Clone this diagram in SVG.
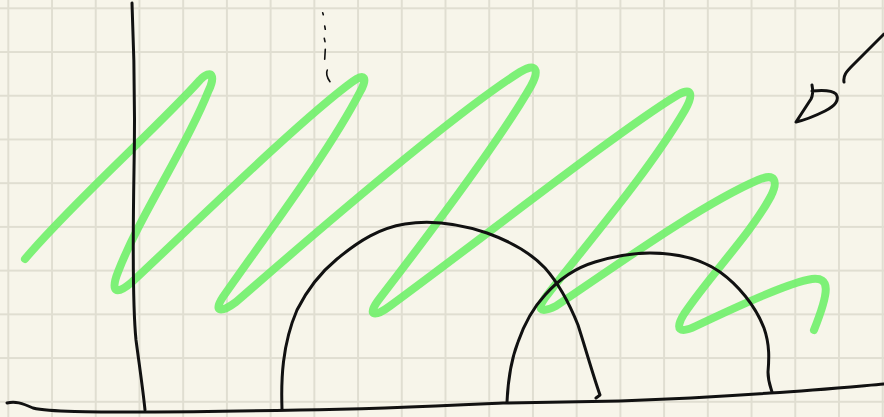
<svg xmlns="http://www.w3.org/2000/svg" width="884" height="417" viewBox="0 0 884 417">
<style>
.ink{fill:none;stroke:#111;stroke-width:3;stroke-linecap:round;stroke-linejoin:round}
.thin{fill:none;stroke:#111;stroke-width:1.6;stroke-linecap:round}
.hl{fill:none;stroke:#6cf066;stroke-opacity:0.88;stroke-width:8;stroke-linecap:round;stroke-linejoin:round}
</style>
<defs>
<pattern id="grid" patternUnits="userSpaceOnUse" x="-13.56" y="-13.56" width="43.72" height="43.72">
<path d="M21.86,0 V43.72 M0,21.86 H43.72" stroke="#e0ded1" stroke-width="2" fill="none"/>
</pattern>
</defs>
<rect width="884" height="417" fill="#f7f5ea"/>
<rect width="884" height="417" fill="url(#grid)"/>
<g id="highlight">
<path class="hl" d="M25,259 C70,205 160,125 200,80 C212,68 216,76 208,92 C185,150 140,215 118,272 C110,292 116,296 132,282 C190,228 300,120 352,82 C365,72 368,78 360,92 C330,150 270,230 225,294 C212,312 220,314 236,302 C330,220 460,110 520,72 C536,62 540,70 531,86 C500,140 440,220 380,298 C366,316 374,318 390,306 C480,240 620,130 676,96 C692,86 694,94 685,110 C650,170 590,240 548,294 C535,310 540,314 556,306 C610,270 700,205 758,180 C776,172 778,182 771,196 C750,235 710,275 684,314 C674,330 680,334 696,326 C740,305 790,282 812,279 C830,277 830,290 814,330"/>
</g>
<g id="axis">
<path class="ink" d="M132,3 C134,50 135,120 134,170 C133,230 132,300 136,340 C140,370 143,390 145,410"/>
<path class="ink" d="M7,403 C15,401 22,403 33,408 C50,412 90,412 143,412 C200,412 250,411 300,410 C380,409 460,405 503,403 C540,402 580,402 620,401 C700,398 740,395 770,393 C820,390 860,386 884,384"/>
</g>
<g id="arc1">
<path class="ink" d="M282,409 C281,380 282,345 297,310 C308,288 320,273 337,259 C360,240 380,228 405,224 C430,220 460,224 487,233 C512,242 530,252 545,268 C560,285 570,305 578,325 C586,350 593,375 600,395 L596,398"/>
</g>
<g id="arc2">
<path class="ink" d="M507,402 C508,380 511,360 518,342 C525,322 533,308 545,295 C560,278 575,268 595,262 C615,256 635,253 650,253 C675,253 700,258 720,272 C738,285 755,305 764,328 C770,345 769,360 768,372 C768,382 771,388 772,392"/>
</g>
<g id="dots">
<path class="thin" d="M322.7,12.7 L323.3,14.7 M324.7,26 L325.3,29.3 M324.3,38.3 L325,41.7 M325.3,49.3 L324.7,59.3 M327.3,70 C325.8,73 326,76 330,81.7"/>
</g>
<g id="mark">
<path class="ink" d="M844,82 C843,76 846,72 852,66 L884,34"/>
<path class="ink" d="M812,85 C813,90 813,95 811,99 L796,122 C805,120 815,116 825,111 C835,106 840,100 836,94 C832,90 822,90 812,91"/>
</g>
</svg>
